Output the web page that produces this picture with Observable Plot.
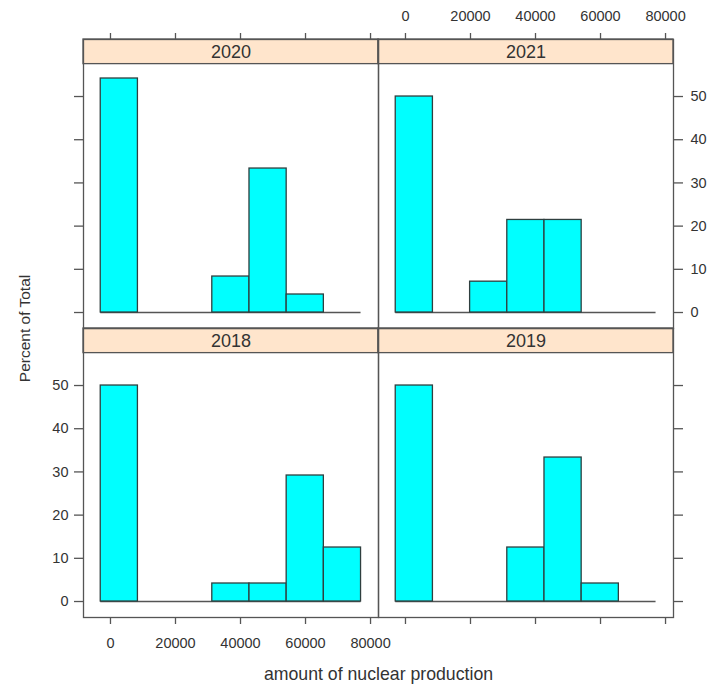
<!DOCTYPE html>
<html>
<head>
<meta charset="utf-8">
<script src="https://cdn.jsdelivr.net/npm/d3@7"></script>
<script src="https://cdn.jsdelivr.net/npm/@observablehq/plot@0.6"></script>
<style>
  html, body { margin: 0; padding: 0; background: #fff; }
  #chart { width: 708px; height: 698px; }
</style>
</head>
<body>
<div id="chart"></div>
<script>
// ---- data ----
const years     = [2020, 2021, 2018, 2019];
const panelCol  = ["L", "R", "L", "R"];
const panelRow  = ["T", "T", "B", "B"];
const binEdges  = [-3000, 8440, 19880, 31320, 42760, 54200, 65640, 77080];
const pct2018   = [50.00, 0, 0, 4.17, 4.17, 29.17, 12.50];
const pct2019   = [50.00, 0, 0, 12.50, 33.33, 4.17, 0];
const pct2020   = [54.17, 0, 0, 8.33, 33.33, 4.17, 0];
const pct2021   = [50.00, 0, 7.14, 21.43, 21.43, 0, 0];
const xTicks    = [0, 20000, 40000, 60000, 80000];
const yTicks    = [0, 10, 20, 30, 40, 50];
const xTitle    = "amount of nuclear production";
const yTitle    = "Percent of Total";

// ---- build tables ----
const pctByYear = {2018: pct2018, 2019: pct2019, 2020: pct2020, 2021: pct2021};
const panels = years.map((year, i) => ({year: String(year), c: panelCol[i], r: panelRow[i]}));
const bars = [];
for (const p of panels) {
  pctByYear[p.year].forEach((pct, k) => {
    bars.push({c: p.c, r: p.r, x1: binEdges[k], x2: binEdges[k + 1], pct});
  });
}
const baseRows = panels.map(p => ({c: p.c, r: p.r, x1: binEdges[0], x2: binEdges[binEdges.length - 1], y: 0}));

function tickRows(values, year, withLabels) {
  const p = panels.find(d => d.year === String(year));
  return values.map(v => ({v, c: p.c, r: p.r, label: withLabels ? String(v) : ""}));
}

// ---- layout (y units of the percent scale) ----
const yDomain = [-3.7, 63.2];
const stripLow = 57.5;
const ink = "#333";
const line = "#555";
const axisFont = 14.5;

function xAxis(year, anchor, labels) {
  return Plot.axisX(tickRows(xTicks, year, labels), {
    x: "v", text: "label", fx: "c", fy: "r", anchor, facetAnchor: null,
    tickSize: 7, tickPadding: anchor === "top" ? 12 : 13, label: null, fontSize: axisFont,
    stroke: line, strokeWidth: 1.3, fill: ink
  });
}
function yAxis(year, anchor, labels) {
  return Plot.axisY(tickRows(yTicks, year, labels), {
    y: "v", text: "label", fx: "c", fy: "r", anchor, facetAnchor: null,
    tickSize: 9, tickPadding: anchor === "left" ? 6 : 8, label: null, fontSize: axisFont,
    stroke: line, strokeWidth: 1.3, fill: ink
  });
}

const chart = Plot.plot({
  width: 708,
  height: 698,
  marginLeft: 83,
  marginRight: 35,
  marginTop: 38,
  marginBottom: 81,
  style: {fontFamily: "'Liberation Sans', Arial, sans-serif", fontSize: "14px", color: ink, background: "#fff"},
  fx: {domain: ["L", "R"], padding: 0, axis: null},
  fy: {domain: ["T", "B"], padding: 0, axis: null},
  x: {domain: [-8300, 82450]},
  y: {domain: yDomain},
  marks: [
    // strips
    Plot.rect(panels, {fx: "c", fy: "r", y1: stripLow, y2: yDomain[1], fill: "#ffe5cc", stroke: line, strokeWidth: 1.3}),
    Plot.text(panels, {fx: "c", fy: "r", text: "year", frameAnchor: "top", lineAnchor: "middle", dy: 12.5, fontSize: 18, fill: ink}),
    // zero baseline (empty bins)
    Plot.ruleY(baseRows, {fx: "c", fy: "r", x1: "x1", x2: "x2", y: "y", stroke: line, strokeWidth: 1.3}),
    // histogram bars
    Plot.rect(bars.filter(d => d.pct > 0), {fx: "c", fy: "r", x1: "x1", x2: "x2", y1: 0, y2: "pct", fill: "#00ffff", stroke: "#2f3f3f", strokeWidth: 1.3}),
    Plot.frame({stroke: line, strokeWidth: 1.3}),
    // axes, lattice-style alternating
    xAxis(2020, "top", false),
    xAxis(2021, "top", true),
    xAxis(2018, "bottom", true),
    xAxis(2019, "bottom", false),
    yAxis(2020, "left", false),
    yAxis(2018, "left", true),
    yAxis(2021, "right", true),
    yAxis(2019, "right", false),
    // titles
    Plot.text([xTitle], {text: d => d, frameAnchor: "bottom", dy: 62, fontSize: 17.7, fill: ink, facet: "super"}),
    Plot.text([yTitle], {text: d => d, frameAnchor: "left", textAnchor: "middle", rotate: -90, dx: -58, fontSize: 15.5, fill: ink, facet: "super"})
  ]
});
document.getElementById("chart").appendChild(chart);
</script>
</body>
</html>
